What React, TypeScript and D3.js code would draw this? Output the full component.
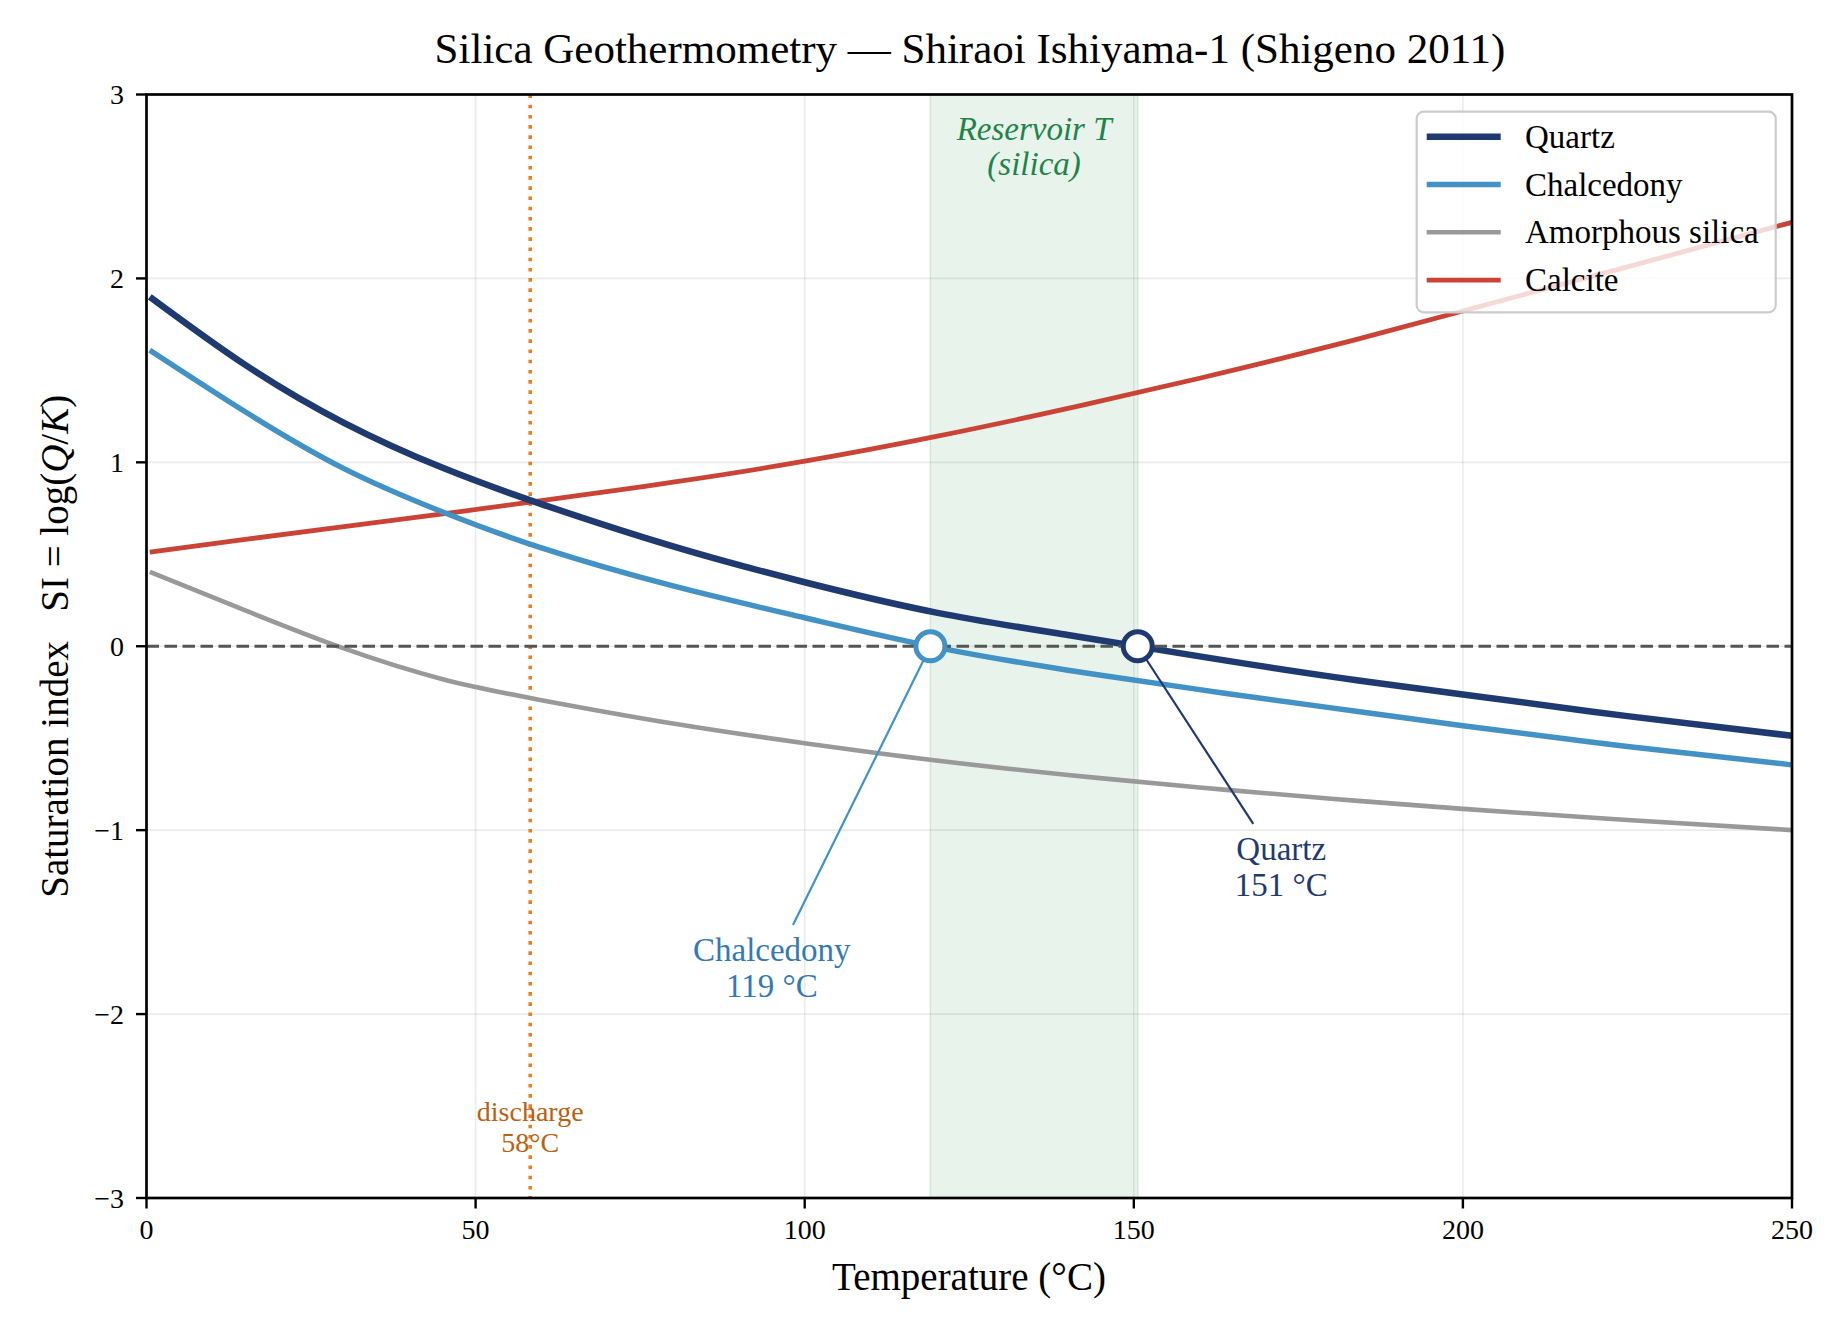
import { useEffect } from "react"
import * as d3 from "d3"

// values (°C, saturation index)
const temperatures = [0.5, 15, 30, 45, 60, 80, 100, 120, 140, 160, 180, 200, 225, 250]
const quartzSI = [1.9, 1.53, 1.215, 0.97, 0.773, 0.543, 0.348, 0.183, 0.061, -0.055, -0.165, -0.262, -0.38, -0.487]
const chalcedonySI = [1.61, 1.275, 0.966, 0.73, 0.535, 0.328, 0.155, -0.006, -0.13, -0.236, -0.335, -0.432, -0.545, -0.645]
const amorphousSI = [0.404, 0.195, -0.012, -0.179, -0.293, -0.42, -0.527, -0.621, -0.7, -0.768, -0.829, -0.884, -0.945, -1.0]
const calciteSI = [0.512, 0.581, 0.65, 0.72, 0.792, 0.892, 1.006, 1.141, 1.293, 1.457, 1.633, 1.823, 2.063, 2.305]

const seriesNames = ["Quartz", "Chalcedony", "Amorphous silica", "Calcite"]

// geothermometer results
const geoNames = ["Chalcedony", "Quartz"]
const geoTemps = [119.1, 150.6]
const dischargeT = 58.3

const xTicks = [0, 50, 100, 150, 200, 250]
const yTicks = [-3, -2, -1, 0, 1, 2, 3]

const FONT = "'Liberation Serif', 'Times New Roman', serif"

const styles = [
  { color: "#1f3a70", width: 6.5 },
  { color: "#4292c6", width: 5.5 },
  { color: "#999999", width: 4.6 },
  { color: "#cb4335", width: 4.8 },
]

const labelColors = ["#3479b5", "#1f3a70"]
const markerColors = ["#4292c6", "#1f3a70"]
// where the annotation text sits (data coords)
const labelAnchors = [
  [95, -1.75],
  [172.4, -1.2],
]

export default function App() {
  useEffect(() => {
    document.body.style.margin = "0"
  }, [])

  const width = 1848
  const height = 1342

  const x = d3.scaleLinear().domain([0, 250]).range([146.5, 1792])
  const y = d3.scaleLinear().domain([-3, 3]).range([1198, 94.5])

  const line = d3
    .line<number>()
    .x((_, i) => x(temperatures[i]))
    .y((d) => y(d))
    .curve(d3.curveNatural)

  const allSeries = [quartzSI, chalcedonySI, amorphousSI, calciteSI]
  const fmt = (v: number) => (v < 0 ? "\u2212" + Math.abs(v) : String(v))

  const [x0, x1] = x.range()
  const [y0, y1] = y.range()
  const bandMid = x((geoTemps[0] + geoTemps[1]) / 2)

  return (
    <svg width={width} height={height} style={{ display: "block", fontFamily: FONT }}>
      <rect width={width} height={height} fill="#fff" />

      {/* title */}
      <text x={970} y={63} fontSize={43} textAnchor="middle" fill="#000">
        Silica Geothermometry — Shiraoi Ishiyama-1 (Shigeno 2011)
      </text>

      {/* reservoir band */}
      <rect
        x={x(geoTemps[0])}
        y={y1}
        width={x(geoTemps[1]) - x(geoTemps[0])}
        height={y0 - y1}
        fill="#e8f3ec"
        stroke="#d4e8da"
        strokeWidth={1.5}
      />

      {/* grid */}
      <g stroke="#000" strokeOpacity={0.08} strokeWidth={1.6}>
        {xTicks.map((t) => (
          <line key={"gx" + t} x1={x(t)} x2={x(t)} y1={y1} y2={y0} />
        ))}
        {yTicks.map((t) => (
          <line key={"gy" + t} x1={x0} x2={x1} y1={y(t)} y2={y(t)} />
        ))}
      </g>

      {/* discharge temperature */}
      <line
        x1={x(dischargeT)}
        x2={x(dischargeT)}
        y1={y1}
        y2={y0}
        stroke="#e67e22"
        strokeWidth={3.6}
        strokeDasharray="3.6 6.6"
      />
      <text x={x(dischargeT)} y={1121} fontSize={28} textAnchor="middle" fill="#ba6110">
        <tspan x={x(dischargeT)}>discharge</tspan>
        <tspan x={x(dischargeT)} dy={31}>
          {Math.round(dischargeT)}°C
        </tspan>
      </text>

      {/* reservoir label */}
      <text x={bandMid} y={140} fontSize={33} fontStyle="italic" textAnchor="middle" fill="#1e8449">
        <tspan x={bandMid}>Reservoir T</tspan>
        <tspan x={bandMid} dy={35}>
          (silica)
        </tspan>
      </text>

      {/* curves */}
      <g fill="none">
        {allSeries
          .map((s, i) => ({ s, i }))
          .reverse()
          .map(({ s, i }) => (
            <path key={seriesNames[i]} d={line(s) as string} stroke={styles[i].color} strokeWidth={styles[i].width} />
          ))}
      </g>

      {/* SI = 0 */}
      <line x1={x0} x2={x1} y1={y(0)} y2={y(0)} stroke="#555" strokeWidth={3.2} strokeDasharray="12.5 5.5" />

      {/* annotations */}
      {geoNames.map((name, i) => {
        const mx = x(geoTemps[i])
        const my = y(0)
        const cx = x(labelAnchors[i][0])
        const cy = y(labelAnchors[i][1])
        const t = (cy - 43 - my) / (cy - my)
        return (
          <g key={name}>
            <line
              x1={mx}
              y1={my}
              x2={mx + (cx - mx) * t}
              y2={my + (cy - my) * t}
              stroke={markerColors[i]}
              strokeWidth={2.2}
            />
            <circle cx={mx} cy={my} r={14.5} fill="#fff" stroke={markerColors[i]} strokeWidth={5} />
            <text x={cx} y={cy - 7} fontSize={33} textAnchor="middle" fill={labelColors[i]}>
              <tspan x={cx}>{name}</tspan>
              <tspan x={cx} dy={36}>
                {Math.round(geoTemps[i])} °C
              </tspan>
            </text>
          </g>
        )
      })}

      {/* spines */}
      <rect x={x0} y={y1} width={x1 - x0} height={y0 - y1} fill="none" stroke="#000" strokeWidth={2.7} />

      {/* x axis ticks */}
      <g fontSize={28} textAnchor="middle" fill="#000">
        {xTicks.map((t) => (
          <g key={"xt" + t}>
            <line x1={x(t)} x2={x(t)} y1={y0} y2={y0 + 10.5} stroke="#000" strokeWidth={2.4} />
            <text x={x(t)} y={1239}>
              {t}
            </text>
          </g>
        ))}
      </g>

      {/* y axis ticks */}
      <g fontSize={28} textAnchor="end" fill="#000">
        {yTicks.map((t) => (
          <g key={"yt" + t}>
            <line x1={x0 - 10.5} x2={x0} y1={y(t)} y2={y(t)} stroke="#000" strokeWidth={2.4} />
            <text x={124} y={y(t) + 9.5}>
              {fmt(t)}
            </text>
          </g>
        ))}
      </g>

      {/* axis labels */}
      <text x={969} y={1290} fontSize={39} textAnchor="middle" fill="#000">
        Temperature (°C)
      </text>
      <text transform={`translate(68, ${(y0 + y1) / 2}) rotate(-90)`} fontSize={39} textAnchor="middle" fill="#000">
        Saturation index{"\u00a0\u00a0\u00a0"}SI = log(<tspan fontStyle="italic">Q</tspan>/<tspan fontStyle="italic">K</tspan>)
      </text>

      {/* legend */}
      <rect
        x={1416.7}
        y={111.7}
        width={359}
        height={200.6}
        rx={7}
        fill="#fff"
        fillOpacity={0.8}
        stroke="#cccccc"
        strokeWidth={2.2}
      />
      {seriesNames.map((name, i) => {
        const ly = 136.7 + i * 47.8
        return (
          <g key={"lg" + name}>
            <line x1={1426.7} x2={1500.7} y1={ly} y2={ly} stroke={styles[i].color} strokeWidth={styles[i].width} />
            <text x={1525} y={ly + 11} fontSize={33} fill="#000">
              {name}
            </text>
          </g>
        )
      })}
    </svg>
  )
}
